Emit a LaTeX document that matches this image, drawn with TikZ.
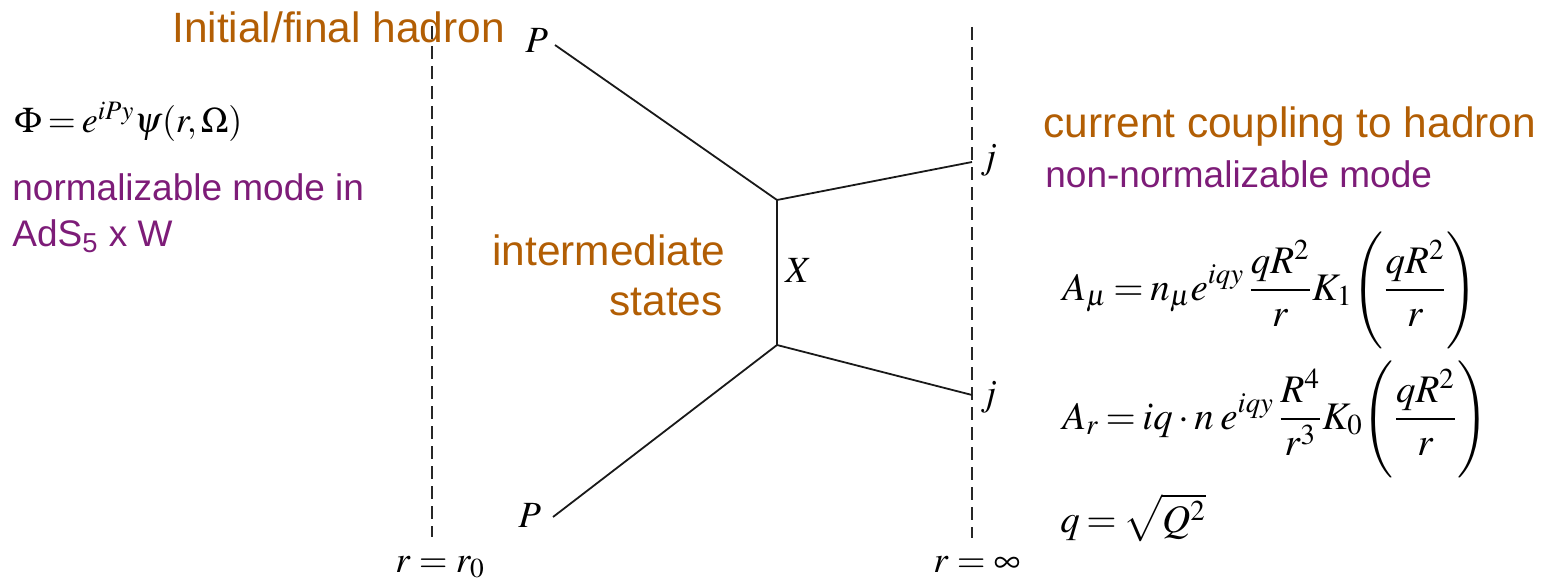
\documentclass[tikz,border=0pt]{standalone}
\usepackage{mathptmx}
\usepackage[no-math]{fontspec}
\setmainfont{Liberation Serif}
\newfontfamily\arialf{Liberation Sans}
\definecolor{hadronc}{RGB}{178,94,4}
\definecolor{modec}{RGB}{125,28,120}
\newcommand\bigsans{\arialf\fontsize{21.2}{25}\selectfont}
\newcommand\midsans{\arialf\fontsize{18.5}{22}\selectfont}
\newcommand\eqsize{\fontsize{19.5}{24}\selectfont\thickmuskip=3mu\relax}
\newcommand\phisize{\fontsize{18}{22}\selectfont\thickmuskip=3mu\relax}
\newcommand\labsize{\fontsize{18.5}{22}\selectfont}
\begin{document}
\begin{tikzpicture}[x=0.5pt,y=-0.5pt,
  dline/.style={line width=0.9pt, dash pattern=on 6.5pt off 3.5pt, black!85},
  sline/.style={line width=0.9pt, black!90},
  lab/.style={inner sep=0pt, anchor=base west},
  title/.style={lab, font=\bigsans, text=hadronc},
  mode/.style={lab, font=\midsans, text=modec},
  eq/.style={lab, font=\eqsize},
  fey/.style={lab, font=\labsize}]
\useasboundingbox (0,0) rectangle (1546,583);
% texts
\node[title] (initial) at (172,43) {Initial/final hadron};
\node[lab, font=\phisize] (phi) at (14,133) {$\Phi = e^{iPy}\psi(r,\Omega)$};
\node[mode] (norm1) at (12,200) {normalizable mode in};
\node[mode] (norm2) at (12,246) {AdS\textsubscript{5} x W};
\node[title] (current) at (1043,137) {current coupling to hadron};
\node[mode] (nonnorm) at (1045,187) {non-normalizable mode};
\node[title, anchor=base east] (inter1) at (726,265) {intermediate};
\node[title, anchor=base east] (inter2) at (723,315) {states};
\node[eq] (amu) at (1062,300) {$\displaystyle A_\mu = n_\mu e^{iqy}\,\frac{qR^2}{r}K_1\Biggl(\frac{qR^2}{r}\Biggr)$};
\node[eq] (ar) at (1062,429) {$\displaystyle A_r = iq\cdot n\; e^{iqy}\,\frac{R^4}{r^3}K_0\Biggl(\frac{qR^2}{r}\Biggr)$};
\node[eq] (qq) at (1060,532) {$q=\sqrt{Q^2}$};
% boundary lines
\coordinate (l0t) at (432,26); \coordinate (l0b) at (432,537);
\coordinate (l1t) at (972,27); \coordinate (l1b) at (972,538);
\draw[dline] (l0t) -- (l0b);
\draw[dline] (l1t) -- (l1b);
\node[fey] (r0) at (395,572) {$r=r_0$};
\node[fey] (rinf) at (933,572) {$r=\infty$};
% diagram
\coordinate (p1) at (555,45);
\coordinate (p2) at (553,517);
\coordinate (v1) at (777,200);
\coordinate (v2) at (777,345);
\coordinate (j1) at (972,162);
\coordinate (j2) at (972,395);
\draw[sline] (p1) -- (v1) -- (j1);
\draw[sline] (v1) -- (v2);
\draw[sline] (p2) -- (v2) -- (j2);
\node[fey] (P1) at (525,53) {$P$};
\node[fey] (P2) at (518,527) {$P$};
\node[fey] (X) at (785,282) {$X$};
\node[fey] (J1) at (980,169) {$j$};
\node[fey] (J2) at (980,405) {$j$};
\end{tikzpicture}
\end{document}
